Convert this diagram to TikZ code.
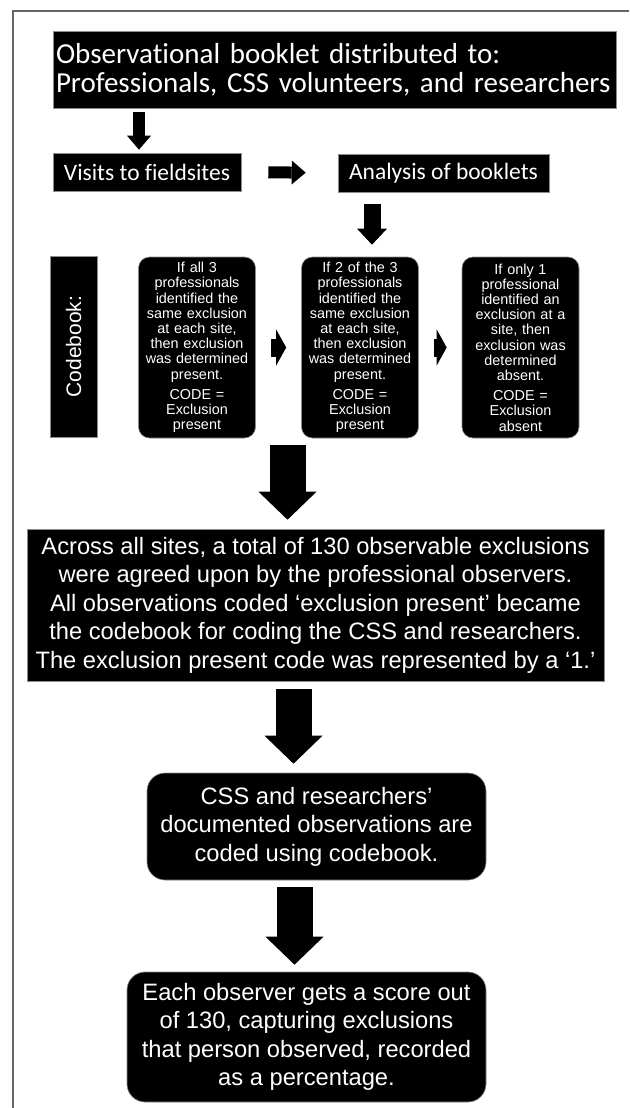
\documentclass[tikz,border=0pt]{standalone}
\usepackage{fontspec}
\setmainfont{Liberation Sans}
\newfontfamily\carlito[Ligatures=NoCommon]{Carlito}
\usetikzlibrary{arrows.meta}

\begin{document}
\begin{tikzpicture}[x=1pt,y=-1pt,
    blackbox/.style={fill=black,draw=black!45,line width=.6pt,text=white,inner sep=0pt},
    sharpbox/.style={blackbox,font=\carlito\fontsize{23.5}{28}\selectfont},
    codebox/.style={blackbox,rounded corners=11pt,minimum width=117pt,minimum height=181pt,
      text width=114pt,align=center,font=\fontsize{14.4}{15.2}\selectfont},
    roundbox/.style={blackbox,rounded corners=18pt,align=center,font=\fontsize{23.7}{28.5}\selectfont},
    smallarrow/.style={line width=12pt,-{Triangle[length=14pt,width=24pt,line width=0pt]}},
    midarrow/.style={line width=17pt,-{Triangle[length=16pt,width=30pt,line width=0pt]}},
    bigarrow/.style={line width=36pt,-{Triangle[length=28pt,width=58pt,line width=0pt]}},
    chevron/.style={line width=18pt,-{Triangle[length=10pt,width=36pt,line width=0pt]},
      shorten <=15pt,shorten >=15pt}]
  \def\boxh{181}
  \def\rowy{347.5}

  \useasboundingbox (0,0) rectangle (629,1108);
  % frame
  \draw[black!60,line width=1.2pt] (13,1108) -- (13,11) -- (629,11);

  \node[sharpbox,minimum width=563pt,minimum height=77pt,text width=557pt,align=left,
      font=\carlito\fontsize{29}{29}\selectfont] (booklet) at (334.5,69.5)
      {Observational booklet distributed to:\\Professionals, CSS volunteers, and researchers};
  \node[sharpbox,minimum width=188pt,minimum height=38pt] (visits) at (147,172)
      {Visits to fieldsites};
  \node[sharpbox,minimum width=211pt,minimum height=38pt] (analysis) at (443.5,173)
      {Analysis of booklets};

  \node[blackbox,rotate=90,minimum width=\boxh pt,minimum height=47pt,
      font=\fontsize{21}{24}\selectfont] (codebook) at (73.5,346.5) {Codebook:};
  \node[codebox] (rule1) at (197,\rowy)
      {If all 3\\professionals\\identified the\\same exclusion\\at each site,\\then exclusion\\was determined\\present.\\[5pt]CODE =\\Exclusion\\present};
  \node[codebox] (rule2) at (360,\rowy)
      {If 2 of the 3\\professionals\\identified the\\same exclusion\\at each site,\\then exclusion\\was determined\\present.\\[5pt]CODE =\\Exclusion\\present};
  \node[codebox] (rule3) at (520.5,\rowy)
      {If only 1\\professional\\identified an\\exclusion at a\\site, then\\exclusion was\\determined\\absent.\\[5pt]CODE =\\Exclusion\\absent};

  \node[blackbox,minimum width=577pt,minimum height=152pt,align=center,
      font=\fontsize{23.7}{28.5}\selectfont] (total) at (315.5,605)
      {Across all sites, a total of 130 observable exclusions\\were agreed upon by the professional observers.\\All observations coded ‘exclusion present’ became\\the codebook for coding the CSS and researchers.\\The exclusion present code was represented by a ‘1.’};
  \node[roundbox,minimum width=339pt,minimum height=107pt] (coded) at (316.5,826.5)
      {CSS and researchers’\\documented observations are\\coded using codebook.};
  \node[roundbox,minimum width=359pt,minimum height=130pt] (score) at (306.5,1037)
      {Each observer gets a score out\\of 130, capturing exclusions\\that person observed, recorded\\as a percentage.};

  % arrows
  \draw[smallarrow,shorten <=4pt,shorten >=3pt]
      ([xshift=-8pt]visits.north |- booklet.south) -- ([xshift=-8pt]visits.north);
  \draw[smallarrow,shorten <=27pt,shorten >=32pt] (visits.east) -- (analysis.west);
  \draw[midarrow,shorten <=12pt,shorten >=12pt]
      ([xshift=12pt]rule2.north |- analysis.south) -- ([xshift=12pt]rule2.north);
  \foreach \a/\b in {rule1/rule2,rule2/rule3}
    \draw[chevron] (\a) -- (\b);
  \draw[bigarrow,shorten <=7pt,shorten >=9pt]
      ([xshift=-28pt]total.north |- rule1.south) -- ([xshift=-28pt]total.north);
  \draw[bigarrow,shorten <=8pt,shorten >=9pt]
      ([xshift=-23pt]coded.north |- total.south) -- ([xshift=-23pt]coded.north);
  \draw[bigarrow,shorten <=7pt,shorten >=7pt]
      ([xshift=-12pt]score.north |- coded.south) -- ([xshift=-12pt]score.north);
\end{tikzpicture}
\end{document}
